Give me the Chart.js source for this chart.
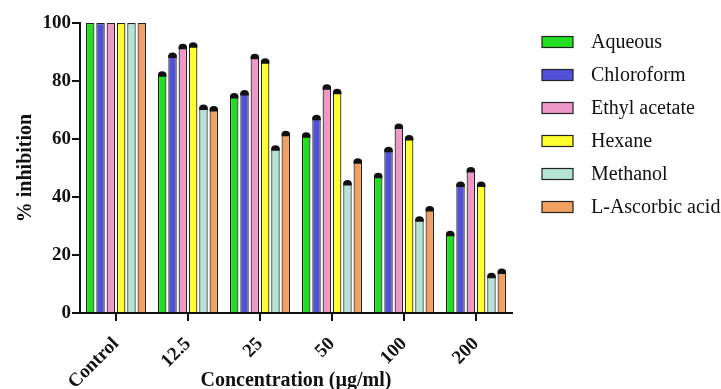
<!DOCTYPE html>
<html>
<head>
<meta charset="utf-8">
<script src="https://cdn.jsdelivr.net/npm/chart.js@4/dist/chart.umd.min.js"></script>
<style>
  html, body { margin: 0; padding: 0; background: #fff; }
  #wrap { width: 721px; height: 389px; position: relative; }
</style>
</head>
<body>
<div id="wrap"><canvas id="barChart" width="721" height="389"></canvas></div>
<script>
var categories = ["Control", "12.5", "25", "50", "100", "200"];
var seriesNames = ["Aqueous", "Chloroform", "Ethyl acetate", "Hexane", "Methanol", "L-Ascorbic acid"];
var aqueous = [100, 82.5, 75, 61.5, 47.5, 27.5];
var chloroform = [100, 89, 76, 67.5, 56.5, 44.5];
var ethylAcetate = [100, 92, 88.5, 78, 64.5, 49.5];
var hexane = [100, 92.5, 87, 76.5, 60.5, 44.5];
var methanol = [100, 71, 57, 45, 32.5, 13];
var ascorbic = [100, 70.5, 62, 52.5, 36, 14.5];
var yTicks = [0, 20, 40, 60, 80, 100];

var colors = ["#22dd22", "#5050d8", "#ee98c8", "#ffff30", "#b6e4d4", "#f0a060"];
var values = [aqueous, chloroform, ethylAcetate, hexane, methanol, ascorbic];

var serif = "'Liberation Serif', 'DejaVu Serif', serif";

// small black caps on the top of each bar (error bar look)
var capPlugin = {
  id: "caps",
  afterDatasetsDraw: function (chart) {
    var ctx = chart.ctx;
    ctx.save();
    ctx.fillStyle = "#111";
    chart.data.datasets.forEach(function (ds, i) {
      var meta = chart.getDatasetMeta(i);
      meta.data.forEach(function (bar, j) {
        if (j === 0) return;
        var hw = bar.width / 2;
        ctx.beginPath();
        ctx.ellipse(bar.x, bar.y + 1, hw, 3.5, 0, Math.PI, 2 * Math.PI);
        ctx.lineTo(bar.x + hw, bar.y + 3);
        ctx.lineTo(bar.x - hw, bar.y + 3);
        ctx.fill();
      });
    });
    ctx.restore();
  }
};

// legend drawn by hand to the right of the plot
var legendPlugin = {
  id: "sideLegend",
  afterDraw: function (chart) {
    var ctx = chart.ctx;
    ctx.save();
    ctx.font = "20px " + serif;
    ctx.textBaseline = "middle";
    chart.data.datasets.forEach(function (ds, i) {
      var cy = 42 + i * 33;
      ctx.fillStyle = ds.backgroundColor;
      ctx.fillRect(542, cy - 5.5, 31, 11);
      ctx.strokeStyle = "#222";
      ctx.lineWidth = 1.2;
      ctx.strokeRect(542, cy - 5.5, 31, 11);
      ctx.fillStyle = "#111";
      ctx.fillText(ds.label, 591, cy + 1);
    });
    ctx.restore();
  }
};

var ctx = document.getElementById("barChart").getContext("2d");
var myBarChart = new Chart(ctx, {
  type: "bar",
  data: {
    labels: categories,
    datasets: seriesNames.map(function (name, i) {
      return {
        label: name,
        data: values[i],
        backgroundColor: colors[i],
        borderColor: "#222",
        borderWidth: 1.2,
        categoryPercentage: 0.86,
        barPercentage: 0.82
      };
    })
  },
  options: {
    responsive: false,
    animation: false,
    layout: { padding: { top: 23, left: 0, right: 209, bottom: 0 } },
    plugins: {
      tooltip: { enabled: false },
      legend: { display: false }
    },
    scales: {
      y: {
        min: 0,
        max: 100,
        afterBuildTicks: function (axis) {
          axis.ticks = yTicks.map(function (v) { return { value: v }; });
        },
        afterFit: function (axis) { axis.width = 80; },
        border: { color: "#111", width: 2 },
        grid: { drawOnChartArea: false, color: "#111", lineWidth: 2, tickLength: 8 },
        ticks: {
          color: "#111",
          padding: 1,
          font: { family: serif, size: 19, weight: "bold" }
        },
        title: {
          display: true,
          text: "% inhibition",
          color: "#111",
          padding: { top: 16, bottom: 0 },
          font: { family: serif, size: 20, weight: "bold", lineHeight: 1 }
        }
      },
      x: {
        afterFit: function (axis) { axis.height = 76; },
        border: { color: "#111", width: 2 },
        grid: { drawOnChartArea: false, offset: false, color: "#111", lineWidth: 2, tickLength: 8 },
        ticks: {
          color: "#111",
          minRotation: 45,
          maxRotation: 45,
          padding: 12,
          font: { family: serif, size: 19, weight: "bold" }
        },
        title: {
          display: true,
          text: "Concentration (µg/ml)",
          color: "#111",
          padding: { top: 0, bottom: 0 },
          font: { family: serif, size: 20, weight: "bold", lineHeight: 0.8 }
        }
      }
    }
  },
  plugins: [capPlugin, legendPlugin]
});
</script>
</body>
</html>
